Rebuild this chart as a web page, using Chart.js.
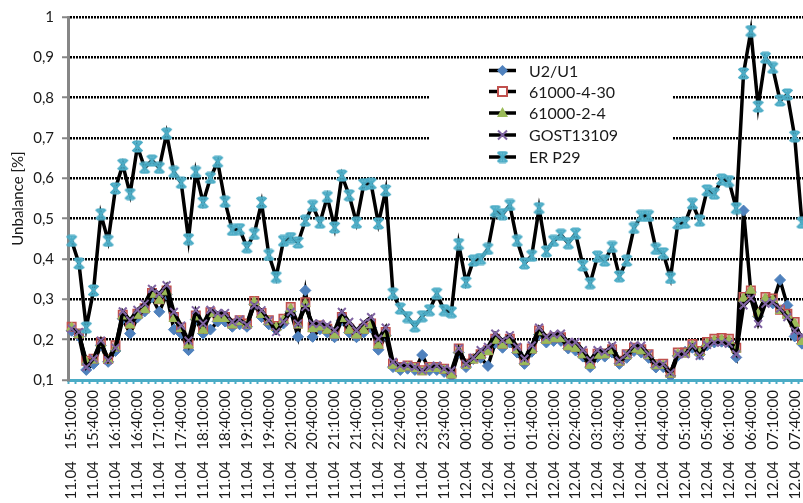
<!DOCTYPE html>
<html><head><meta charset="utf-8">
<script src="https://cdn.jsdelivr.net/npm/chart.js@4/dist/chart.umd.min.js"></script>
<style>
html,body{margin:0;padding:0;overflow:hidden;background:#fff;width:803px;height:503px;}
#wrap{position:absolute;left:0;top:0;width:826px;height:515px;}
</style>
</head><body><div id="wrap"><canvas id="c" width="826" height="515"></canvas></div>
<script>
const tickLabels = ["11.04 15:10:00","11.04 15:40:00","11.04 16:10:00","11.04 16:40:00","11.04 17:10:00","11.04 17:40:00","11.04 18:10:00","11.04 18:40:00","11.04 19:10:00","11.04 19:40:00","11.04 20:10:00","11.04 20:40:00","11.04 21:10:00","11.04 21:40:00","11.04 22:10:00","11.04 22:40:00","11.04 23:10:00","11.04 23:40:00","12.04 00:10:00","12.04 00:40:00","12.04 01:10:00","12.04 01:40:00","12.04 02:10:00","12.04 02:40:00","12.04 03:10:00","12.04 03:40:00","12.04 04:10:00","12.04 04:40:00","12.04 05:10:00","12.04 05:40:00","12.04 06:10:00","12.04 06:40:00","12.04 07:10:00","12.04 07:40:00"];

const seriesNames = ["U2/U1","61000-4-30","61000-2-4","GOST13109","ER P29"];

const u2u1 = [0.222,0.208,0.125,0.140,0.186,0.145,0.172,0.252,0.215,0.255,
 0.270,0.305,0.269,0.312,0.225,0.215,0.174,0.250,0.215,0.225,
 0.245,0.245,0.232,0.238,0.232,0.288,0.256,0.238,0.225,0.240,
 0.270,0.207,0.322,0.207,0.226,0.218,0.206,0.248,0.218,0.206,
 0.218,0.230,0.175,0.210,0.132,0.125,0.128,0.125,0.162,0.124,
 0.125,0.120,0.110,0.168,0.132,0.152,0.155,0.135,0.192,0.180,
 0.193,0.168,0.140,0.170,0.213,0.193,0.197,0.197,0.178,0.173,
 0.158,0.132,0.157,0.158,0.168,0.140,0.155,0.172,0.168,0.155,
 0.131,0.132,0.110,0.160,0.170,0.180,0.163,0.186,0.193,0.195,
 0.193,0.156,0.520,0.318,0.258,0.298,0.290,0.348,0.285,0.208,
 0.190];

const iec30 = [0.232,0.215,0.148,0.153,0.194,0.152,0.186,0.262,0.240,0.264,
 0.278,0.316,0.300,0.322,0.256,0.230,0.190,0.260,0.227,0.268,
 0.256,0.256,0.240,0.248,0.240,0.296,0.266,0.248,0.234,0.252,
 0.281,0.240,0.293,0.231,0.235,0.227,0.215,0.256,0.227,0.215,
 0.227,0.240,0.190,0.219,0.140,0.132,0.136,0.132,0.124,0.132,
 0.132,0.128,0.116,0.178,0.140,0.153,0.164,0.174,0.202,0.190,
 0.202,0.178,0.149,0.178,0.223,0.202,0.206,0.206,0.186,0.182,
 0.166,0.140,0.165,0.166,0.176,0.148,0.164,0.180,0.176,0.164,
 0.139,0.140,0.118,0.168,0.168,0.189,0.172,0.194,0.202,0.204,
 0.202,0.180,0.306,0.322,0.268,0.306,0.302,0.274,0.264,0.244,
 0.199];

const iec24 = [0.230,0.212,0.145,0.149,0.190,0.149,0.178,0.258,0.236,0.260,
 0.274,0.312,0.297,0.318,0.252,0.227,0.186,0.256,0.223,0.264,
 0.252,0.252,0.236,0.244,0.236,0.293,0.262,0.244,0.230,0.248,
 0.276,0.236,0.289,0.227,0.231,0.223,0.211,0.252,0.223,0.211,
 0.223,0.236,0.186,0.215,0.136,0.128,0.132,0.128,0.120,0.128,
 0.128,0.124,0.112,0.174,0.136,0.149,0.160,0.170,0.198,0.186,
 0.198,0.174,0.145,0.174,0.219,0.198,0.202,0.202,0.182,0.178,
 0.162,0.136,0.161,0.162,0.172,0.144,0.160,0.176,0.172,0.160,
 0.135,0.136,0.114,0.164,0.164,0.185,0.168,0.190,0.198,0.200,
 0.198,0.176,0.302,0.322,0.264,0.302,0.298,0.272,0.260,0.240,
 0.195];

const gost = [0.227,0.219,0.132,0.153,0.198,0.149,0.180,0.270,0.248,0.274,
 0.289,0.326,0.314,0.335,0.269,0.235,0.198,0.273,0.240,0.274,
 0.266,0.266,0.244,0.250,0.236,0.285,0.273,0.248,0.219,0.244,
 0.269,0.240,0.281,0.240,0.240,0.236,0.223,0.269,0.244,0.223,
 0.242,0.256,0.202,0.230,0.145,0.136,0.136,0.132,0.124,0.132,
 0.136,0.128,0.124,0.178,0.140,0.155,0.174,0.182,0.215,0.198,
 0.211,0.182,0.153,0.186,0.230,0.207,0.213,0.215,0.194,0.194,
 0.174,0.149,0.174,0.170,0.185,0.148,0.164,0.185,0.185,0.164,
 0.139,0.139,0.118,0.164,0.164,0.185,0.160,0.187,0.193,0.193,
 0.190,0.164,0.285,0.302,0.239,0.289,0.293,0.277,0.256,0.222,
 0.210];

const erP29 = [0.445,0.389,0.230,0.322,0.511,0.445,0.575,0.634,0.561,0.679,
 0.626,0.644,0.626,0.711,0.616,0.589,0.449,0.616,0.540,0.601,
 0.641,0.542,0.472,0.474,0.429,0.462,0.540,0.410,0.355,0.445,
 0.452,0.441,0.495,0.532,0.490,0.554,0.478,0.607,0.558,0.490,
 0.585,0.587,0.488,0.570,0.314,0.277,0.256,0.233,0.258,0.273,
 0.314,0.273,0.268,0.437,0.342,0.396,0.400,0.425,0.519,0.511,
 0.534,0.445,0.389,0.408,0.526,0.419,0.445,0.460,0.439,0.463,
 0.384,0.340,0.406,0.396,0.430,0.357,0.396,0.477,0.507,0.507,
 0.425,0.414,0.353,0.488,0.490,0.537,0.495,0.570,0.562,0.597,
 0.593,0.526,0.860,0.965,0.778,0.899,0.874,0.793,0.808,0.704,
 0.490];

const yTicks = [0.1,0.2,0.3,0.4,0.5,0.6,0.7,0.8,0.9,1];

// categories: one per 10-minute sample; every third carries a tick label
const categories = erP29.map((v, i) => (i % 3 === 0 && tickLabels[i / 3]) ? tickLabels[i / 3] : '');

const COL = {blue:'#4F81BD', red:'#C0504D', green:'#9BBB59', purple:'#8064A2', cyan:'#4BACC6'};
const FONT = 'Lato';

function makeStar(size, color, lw) {
  const c = document.createElement('canvas');
  c.width = size; c.height = size;
  const g = c.getContext('2d');
  g.strokeStyle = color; g.lineWidth = lw; g.lineCap = 'butt';
  const m = lw / 2 + 0.5, s = size - m, h = size / 2;
  g.beginPath();
  g.moveTo(m, m); g.lineTo(s, s);
  g.moveTo(s, m); g.lineTo(m, s);
  g.moveTo(h, m); g.lineTo(h, s);
  g.moveTo(m + 1.5, m); g.lineTo(s - 1.5, m);
  g.moveTo(m + 1.5, s); g.lineTo(s - 1.5, s);
  g.stroke();
  return c;
}
const starImg = makeStar(13, COL.cyan, 2.2);

const legendBox = {
  id: 'legendBox',
  beforeDatasetsDraw(chart) {
    const ctx = chart.ctx;
    ctx.save();
    ctx.fillStyle = '#fff';
    ctx.fillRect(430, 59, 243, 112);
    ctx.restore();
  },
  afterDraw(chart) {
    const ctx = chart.ctx;
    ctx.save();
    const rows = [70.5, 91.5, 113, 135, 157];
    const x0 = 489, x1 = 516, xm = 502.5;
    seriesNames.forEach((name, k) => {
      const y = rows[k];
      ctx.strokeStyle = '#000'; ctx.lineWidth = 3.5; ctx.setLineDash([]);
      ctx.beginPath(); ctx.moveTo(x0, y); ctx.lineTo(x1, y); ctx.stroke();
      if (k === 0) {
        ctx.fillStyle = COL.blue; ctx.beginPath();
        ctx.moveTo(xm, y - 5.5); ctx.lineTo(xm + 5.5, y); ctx.lineTo(xm, y + 5.5); ctx.lineTo(xm - 5.5, y); ctx.closePath(); ctx.fill();
      } else if (k === 1) {
        ctx.fillStyle = '#fff'; ctx.fillRect(xm - 4.5, y - 4.5, 9, 9);
        ctx.strokeStyle = COL.red; ctx.lineWidth = 2; ctx.strokeRect(xm - 4.5, y - 4.5, 9, 9);
      } else if (k === 2) {
        ctx.fillStyle = COL.green; ctx.beginPath();
        ctx.moveTo(xm, y - 6); ctx.lineTo(xm + 5.5, y + 4); ctx.lineTo(xm - 5.5, y + 4); ctx.closePath(); ctx.fill();
      } else if (k === 3) {
        ctx.strokeStyle = COL.purple; ctx.lineWidth = 2; ctx.beginPath();
        ctx.moveTo(xm - 4.5, y - 4.5); ctx.lineTo(xm + 4.5, y + 4.5);
        ctx.moveTo(xm + 4.5, y - 4.5); ctx.lineTo(xm - 4.5, y + 4.5); ctx.stroke();
      } else {
        ctx.drawImage(starImg, xm - 6.5, y - 6.5);
      }
      ctx.fillStyle = '#1a1a1a';
      ctx.font = '16px ' + FONT;
      ctx.textBaseline = 'middle'; ctx.textAlign = 'left';
      ctx.fillText(name, 529, y + 1);
    });
    ctx.restore();
  }
};

function ds(label, data, style, color, radius, order, extra) {
  return Object.assign({
    label, data, order,
    borderColor: '#000', borderWidth: 3.5, tension: 0,
    pointStyle: style, pointRadius: radius, pointHoverRadius: radius,
    pointBackgroundColor: color, pointBorderColor: color, pointBorderWidth: 1
  }, extra || {});
}

new Chart(document.getElementById('c'), {
  type: 'line',
  data: {
    labels: categories,
    datasets: [
      ds(seriesNames[0], u2u1, 'rectRot', COL.blue, 5.5, 5),
      ds(seriesNames[1], iec30, 'rect', COL.red, 6, 4, {pointBackgroundColor: 'rgba(192,80,77,0.45)', pointBorderWidth: 1.5}),
      ds(seriesNames[2], iec24, 'triangle', COL.green, 5.5, 3),
      ds(seriesNames[3], gost, 'crossRot', COL.purple, 5.5, 2, {pointBorderWidth: 2}),
      ds(seriesNames[4], erP29, starImg, COL.cyan, 6.5, 1)
    ]
  },
  options: {
    responsive: false,
    animation: false,
    devicePixelRatio: 1,
    events: [],
    layout: {padding: {top: 15, left: 0, right: 0, bottom: 0}},
    plugins: {legend: {display: false}, tooltip: {enabled: false}},
    scales: {
      x: {
        offset: true,
        grid: {display: true, drawOnChartArea: false, drawTicks: true, tickLength: 4, tickColor: COL.cyan, tickWidth: 2, offset: true},
        border: {display: true, color: COL.cyan, width: 3},
        ticks: {
          autoSkip: false, maxRotation: 90, minRotation: 90, padding: 6, color: '#1a1a1a', font: {family: FONT, size: 15},
          callback(value, index) { const l = this.getLabelForValue(value); return l ? l.replace(' ', '   ') : ''; }
        },
        afterFit(scale) { scale.height = 515 - 380; }
      },
      y: {
        min: 0.1, max: 1,
        afterBuildTicks(scale) { scale.ticks = yTicks.map(v => ({value: v})); },
        ticks: {
          color: '#1a1a1a', padding: 8, font: {family: FONT, size: 15},
          callback: v => (Math.abs(v - 1) < 1e-9 ? '1' : v.toFixed(1).replace('.', ','))
        },
        grid: {
          color: c => (c.tick && c.tick.value < 0.15 ? 'rgba(0,0,0,0)' : '#000'),
          lineWidth: 2.5, tickLength: 6, tickColor: '#868686', tickWidth: 2
        },
        border: {display: true, color: '#868686', width: 3, dash: [2, 1]},
        title: {display: true, text: 'Unbalance [%]', color: '#1a1a1a', font: {family: FONT, size: 15}, padding: {top: 9, bottom: 0}},
        afterFit(scale) { scale.width = 68; }
      }
    }
  },
  plugins: [legendBox]
});
</script>
</body></html>
